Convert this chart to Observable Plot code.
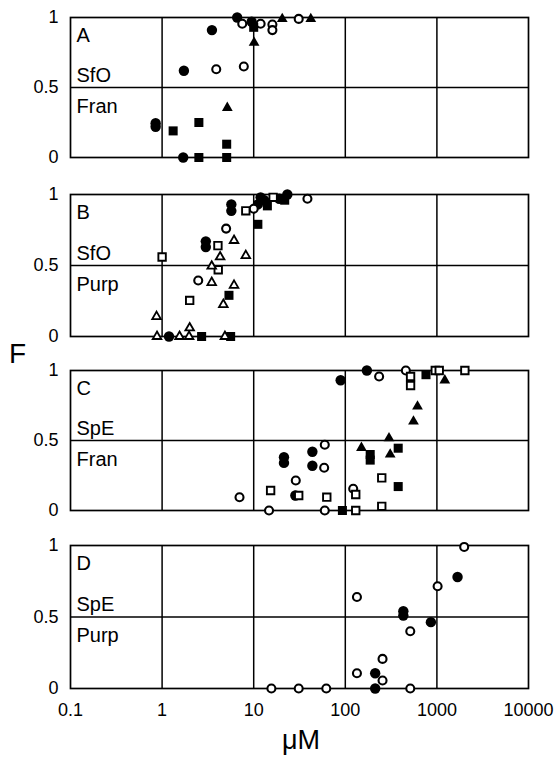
<!DOCTYPE html>
<html>
<head>
<meta charset="utf-8">
<script src="https://cdn.jsdelivr.net/npm/d3@7"></script>
<script src="https://cdn.jsdelivr.net/npm/@observablehq/plot@0.6"></script>
<style>
  body { margin: 0; background: white; }
  #wrap { position: relative; width: 558px; height: 759px; background: white; font-family: "Liberation Sans", Arial, Helvetica, sans-serif; color: black; }
  #wrap svg { position: absolute; left: 0; }
  .axlab { position: absolute; line-height: 1; }
</style>
</head>
<body>
<div id="wrap"></div>
<script>
// ---- data ----
const panelNames = ["A", "B", "C", "D"];
const strainLabels = ["SfO", "SfO", "SpE", "SpE"];
const hostLabels = ["Fran", "Purp", "Fran", "Purp"];
const xTicks = [0.1, 1, 10, 100, 1000, 10000];
const xTickLabels = ["0.1", "1", "10", "100", "1000", "10000"];
const yTicks = [0, 0.5, 1];
const yTickLabels = ["0", "0.5", "1"];
const xTitle = "\u03BCM";
const yTitle = "F";

// [marker, µM, F]
const panelA = [
  ["●", 0.85, 0.22], ["●", 0.85, 0.245], ["■", 1.32, 0.19], ["■", 2.52, 0.25],
  ["▲", 5.15, 0.355], ["■", 5.07, 0.095], ["●", 1.7, 0], ["■", 2.52, 0], ["■", 5.07, 0],
  ["●", 1.73, 0.62], ["○", 3.9, 0.63], ["○", 7.8, 0.65], ["●", 3.5, 0.91],
  ["○", 7.5, 0.955], ["●", 6.6, 1.0], ["●", 9.5, 0.97], ["■", 10, 0.93], ["▲", 10.1, 0.82],
  ["○", 11.9, 0.955], ["○", 16, 0.95], ["○", 16, 0.91], ["▲", 20.5, 0.99],
  ["○", 31, 0.99], ["▲", 42, 0.99]
];
const panelB = [
  ["△", 0.88, 0], ["●", 1.19, 0], ["△", 1.55, 0], ["△", 1.97, 0], ["■", 2.7, 0],
  ["△", 4.85, 0], ["■", 5.6, 0], ["△", 0.87, 0.14], ["△", 2.0, 0.06],
  ["□", 2.0, 0.254], ["△", 4.66, 0.225], ["■", 5.37, 0.29], ["○", 2.48, 0.394],
  ["△", 3.48, 0.38], ["△", 6.1, 0.36], ["□", 4.1, 0.47], ["△", 3.48, 0.495],
  ["□", 1.0, 0.56], ["△", 4.3, 0.56], ["△", 8.2, 0.57], ["●", 3.0, 0.63], ["●", 3.0, 0.67],
  ["□", 4.07, 0.64], ["△", 6.1, 0.676], ["○", 5.0, 0.76], ["●", 5.7, 0.885], ["●", 5.7, 0.93],
  ["□", 8.2, 0.885], ["○", 10, 0.9], ["■", 11.1, 0.79], ["●", 11.1, 0.93], ["■", 14.1, 0.92],
  ["●", 11.9, 0.98], ["□", 16.3, 0.98], ["■", 21.8, 0.96], ["●", 23.3, 1.0],
  ["●", 13, 0.96], ["●", 19, 0.97], ["○", 38.6, 0.97]
];
const panelC = [
  ["○", 7.0, 0.095], ["□", 15.3, 0.143], ["○", 14.7, 0], ["●", 21.4, 0.34], ["●", 21.4, 0.38],
  ["○", 28.8, 0.214], ["●", 28.5, 0.107], ["□", 31, 0.107], ["●", 43.7, 0.42], ["●", 43.7, 0.32],
  ["○", 59.7, 0.47], ["○", 58.8, 0.305], ["□", 62.8, 0.095], ["○", 59.7, 0], ["■", 93, 0],
  ["●", 89, 0.93], ["●", 172, 1.0], ["○", 234, 0.957], ["○", 458, 1.0], ["□", 516, 0.957],
  ["□", 516, 0.893], ["■", 760, 0.97], ["□", 960, 1.0], ["□", 1060, 1.0], ["▲", 1220, 0.93],
  ["□", 2020, 1.0], ["▲", 614, 0.743], ["▲", 555, 0.636], ["▲", 300, 0.517], ["▲", 150, 0.448],
  ["■", 187, 0.36], ["■", 187, 0.40], ["■", 378, 0.445], ["▲", 309, 0.40], ["□", 250, 0.233],
  ["■", 378, 0.171], ["○", 122, 0.155], ["□", 130, 0.114], ["□", 250, 0.03], ["□", 130, 0]
];
const panelD = [
  ["○", 15.6, 0], ["○", 31, 0], ["○", 62, 0], ["○", 134, 0.64], ["○", 134, 0.107],
  ["●", 212, 0.107], ["●", 212, 0], ["○", 255, 0.207], ["○", 255, 0.056], ["○", 512, 0.40],
  ["○", 512, 0], ["●", 430, 0.51], ["●", 430, 0.54], ["●", 860, 0.464], ["○", 1018, 0.715],
  ["●", 1680, 0.78], ["○", 1986, 0.99]
];
const panelData = [panelA, panelB, panelC, panelD];

// ---- layout / styles ----
const panelTops = [17, 194, 370, 545];
const panelHeights = [140, 142, 140, 143];
const FONT = '"Liberation Sans", Arial, Helvetica, sans-serif';
const markerStyles = {
  "●": {symbol: "circle", r: 5.2, fill: "black", stroke: "none"},
  "○": {symbol: "circle", r: 4, fill: "white", stroke: "black", strokeWidth: 2.1},
  "■": {symbol: "square", r: 5.1, fill: "black", stroke: "none"},
  "□": {symbol: "square", r: 4.2, fill: "white", stroke: "black", strokeWidth: 1.9},
  "▲": {symbol: "triangle", r: 4, fill: "black", stroke: "none"},
  "△": {symbol: "triangle", r: 3.2, fill: "white", stroke: "black", strokeWidth: 1.8}
};

const wrap = document.getElementById("wrap");
const mT = 15;

panelNames.forEach((name, i) => {
  const isLast = i === panelNames.length - 1;
  const mB = isLast ? 60 : 15;
  const rows = panelData[i].map(([m, x, y]) => ({m, x, y}));
  const dotMarks = Object.keys(markerStyles).map(k =>
    Plot.dot(rows.filter(d => d.m === k), {x: "x", y: "y", ...markerStyles[k]})
  );
  const marks = [
    Plot.ruleX(xTicks.slice(1, -1), {stroke: "black", strokeWidth: 1.5}),
    Plot.ruleY([0.5], {stroke: "black", strokeWidth: 1.5}),
    Plot.frame({stroke: "black", strokeWidth: 1.7}),
    Plot.axisY({ticks: yTicks, tickFormat: d => yTickLabels[yTicks.indexOf(d)], tickSize: 0, tickPadding: 12, fontSize: 18, label: null}),
    Plot.text([name], {frameAnchor: "top-left", dx: 6, dy: 10, lineAnchor: "top", textAnchor: "start", fontSize: 20}),
    Plot.text([{x: xTicks[0], y: 0.5, t: strainLabels[i]}], {x: "x", y: "y", text: "t", dx: 6, dy: -6, lineAnchor: "bottom", textAnchor: "start", fontSize: 20}),
    Plot.text([{x: xTicks[0], y: 0.5, t: hostLabels[i]}], {x: "x", y: "y", text: "t", dx: 6, dy: 11, lineAnchor: "top", textAnchor: "start", fontSize: 20}),
    ...dotMarks
  ];
  if (isLast) {
    marks.push(Plot.axisX({ticks: xTicks, tickFormat: d => xTickLabels[xTicks.indexOf(d)], tickSize: 0, tickPadding: 15, fontSize: 18, label: null}));
  }
  const svg = Plot.plot({
    width: 558,
    height: panelHeights[i] + mT + mB,
    marginLeft: 70,
    marginRight: 30,
    marginTop: mT,
    marginBottom: mB,
    x: {type: "log", domain: [xTicks[0], xTicks[xTicks.length - 1]], axis: isLast ? undefined : null},
    y: {domain: [0, 1]},
    style: {fontFamily: FONT, fontSize: "18px", background: "transparent", overflow: "visible", color: "black"},
    marks
  });
  svg.style.top = (panelTops[i] - mT) + "px";
  wrap.appendChild(svg);
});

const fLab = document.createElement("div");
fLab.className = "axlab";
fLab.textContent = yTitle;
fLab.style.cssText += "left:9px;top:340px;font-size:28px;";
wrap.appendChild(fLab);

const xLab = document.createElement("div");
xLab.className = "axlab";
xLab.textContent = xTitle;
xLab.style.cssText += "left:0;width:602px;text-align:center;top:727px;font-size:27px;";
wrap.appendChild(xLab);
</script>
</body>
</html>
